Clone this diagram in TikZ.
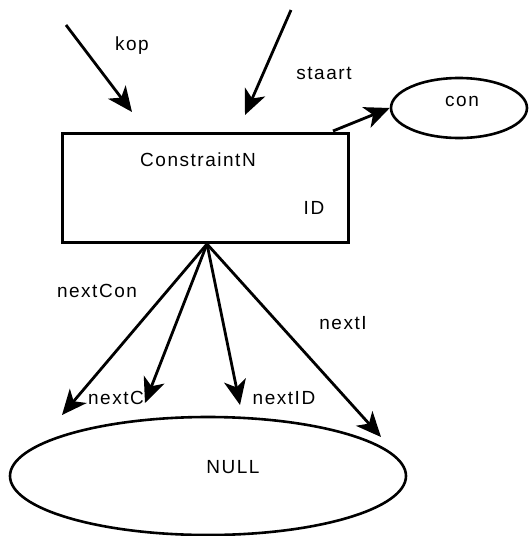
\documentclass[tikz,border=0pt]{standalone}
\usepackage{fontspec}
\setmainfont{Liberation Sans}[LetterSpace=8]
\usetikzlibrary{arrows.meta,shapes.geometric}
\begin{document}
\begin{tikzpicture}[x=1pt,y=-1pt,
    lbl/.style={font=\fontsize{19}{21}\selectfont, inner sep=0pt},
    ptr/.style={line width=2.8pt,
      -{Stealth[length=25pt,width=22pt,inset=7pt]}},
    blob/.style={draw, line width=2.6pt, ellipse, inner sep=0pt},
    rec/.style={draw, line width=3pt, inner sep=0pt}]
  \useasboundingbox (0,0) rectangle (529,536);

  % record box
  \node[rec, minimum width=286pt, minimum height=109pt] (box) at (205,187.5) {};
  \node[lbl] (cname) at (198,160) {ConstraintN};
  \node[lbl] (idf) at (314,208) {ID};

  % targets
  \node[blob, minimum width=136pt, minimum height=60pt] (con) at (459,108) {};
  \node[lbl] (conl) at (462,101) {con};
  \node[blob, minimum width=396pt, minimum height=118pt] (null) at (208,476) {};
  \node[lbl] (nulll) at (233,467) {NULL};

  % incoming pointers
  \coordinate (kops) at (66,25);
  \coordinate (kope) at (132,112);
  \coordinate (sts) at (291,10);
  \coordinate (ste) at (245,115);
  \draw[ptr] (kops) -- (kope);
  \draw[ptr] (sts) -- (ste);
  \node[lbl] (kopl) at (132,46) {kop};
  \node[lbl] (stl) at (324,73) {staart};

  % pointer to con
  \coordinate (cs) at (333,131);
  \draw[ptr] (cs) -- (con.west);

  % outgoing pointers
  \coordinate (o) at (207,244);
  \coordinate (t1) at (62,415);
  \coordinate (t2) at (145,403);
  \coordinate (t3) at (240,405);
  \coordinate (t4) at (381,437);
  \draw[ptr] (o) -- (t1);
  \draw[ptr] (o) -- (t2);
  \draw[ptr] (o) -- (t3);
  \draw[ptr] (o) -- (t4);
  \node[lbl] (l1) at (97,291) {nextCon};
  \node[lbl] (l2) at (116,398) {nextC};
  \node[lbl] (l3) at (284,398) {nextID};
  \node[lbl] (l4) at (343,323) {nextI};
\end{tikzpicture}
\end{document}
